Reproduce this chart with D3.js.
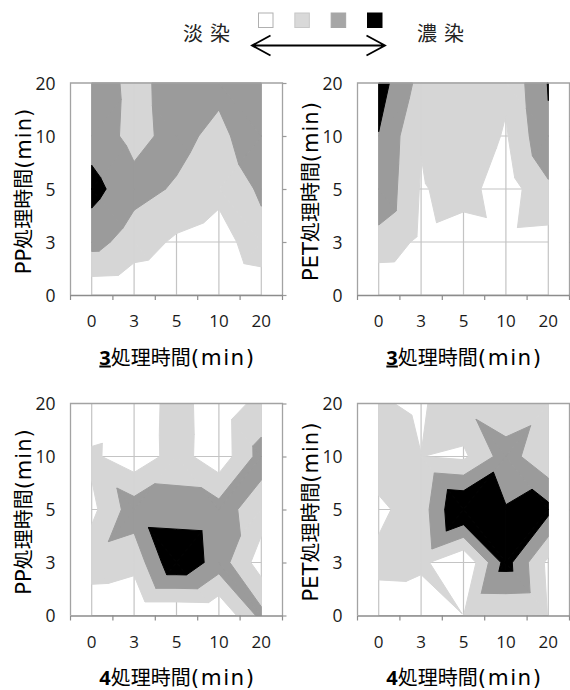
<!DOCTYPE html>
<html><head><meta charset="utf-8">
<script src="https://cdn.jsdelivr.net/npm/d3@7"></script>
<style>body{margin:0;background:#fff}svg{display:block}</style>
</head><body>
<svg id="chart" width="570" height="690"></svg>
<script>
// ---- data ----
const xCats = ["0","3","5","10","20"];          // x categories (min)
const yCats = ["0","3","5","10","20"];          // y categories (min), bottom -> top
const levels = [1, 2, 3];                        // band thresholds
const legendLabels = ["淡染", "濃染"];
const yPrefixes = ["PP", "PET", "PP", "PET"];
const xPrefixes = ["3", "3", "4", "4"];
const titleCore = "処理時間";
const titleUnit = "(min)";
// rows: y = 0,3,5,10,20 ; columns: x = 0,3,5,10,20
const pp3 = [
  [0.26, 0.19, 0.00, 0.00, 0.22],
  [2.38, 1.52, 0.83, 0.50, 1.69],
  [3.35, 2.32, 1.89, 1.30, 2.15],
  [2.57, 1.70, 2.33, 1.70, 2.80],
  [2.50, 1.75, 2.35, 2.31, 2.50]
];
const pet3 = [
  [0.06, 0.00, 0.30, 0.30, 0.30],
  [1.60, 0.80, 0.54, 0.70, 0.62],
  [2.85, 0.92, 1.35, 0.50, 1.80],
  [2.96, 1.05, 1.70, 0.90, 2.90],
  [3.46, 1.64, 1.60, 1.16, 3.05]
];
const pp4 = [
  [0.07, 0.00, 0.00, 0.07, 2.30],
  [1.65, 1.33, 3.90, 2.52, 0.50],
  [0.74, 2.54, 2.47, 2.40, 1.50],
  [1.21, 0.34, 1.43, 0.36, 2.40],
  [0.10, 0.37, 1.40, 0.40, 1.31]
];
const pet4 = [
  [0.55, 0.16, 0.99, 1.02, 0.95],
  [1.22, 1.25, 0.00, 3.40, 0.75],
  [0.80, 1.49, 4.20, 3.05, 3.31],
  [1.54, 1.01, 0.80, 2.50, 1.11],
  [1.09, 0.85, 1.79, 1.15, 1.64]
];
const grids = [pp3, pet3, pp4, pet4];

// ---- styles / layout ----
const bandFill = ["#d6d6d6", "#9b9b9b", "#000000"];
const legendFill = ["#ffffff", "#d9d9d9", "#a6a6a6", "#000000"];
const latin = "'Open Sans', sans-serif";
const cjk = "'Noto Sans CJK JP', sans-serif";
const W = 212, H = 212;
const origins = [[70.5, 83], [357.5, 83], [70.5, 403.5], [357.5, 403.5]];

const svg = d3.select("#chart");

// ---- legend ----
const lg = svg.append("g");
const lx = d3.scalePoint().domain(d3.range(legendFill.length)).range([258.5, 367.5]);
lg.selectAll("rect").data(legendFill).join("rect")
  .attr("x", (d, i) => lx(i)).attr("y", 13).attr("width", 14.5).attr("height", 14.5)
  .attr("fill", d => d).attr("stroke", (d, i) => i === 0 ? "#b0b0b0" : (i === 1 ? "#c8c8c8" : d))
  .attr("stroke-width", 1);
lg.append("text").attr("x", 183).attr("y", 41).attr("font-family", cjk).attr("font-size", 20)
  .attr("letter-spacing", 7).attr("fill", "#222").text(legendLabels[0]);
lg.append("text").attr("x", 417).attr("y", 41).attr("font-family", cjk).attr("font-size", 20)
  .attr("letter-spacing", 7).attr("fill", "#222").text(legendLabels[1]);
const ap = d3.path();
ap.moveTo(252, 45.5); ap.lineTo(385, 45.5);
ap.moveTo(270.5, 35.5); ap.lineTo(252, 45.5); ap.lineTo(270.5, 55.5);
ap.moveTo(366.5, 35.5); ap.lineTo(385, 45.5); ap.lineTo(366.5, 55.5);
lg.append("path").attr("d", ap.toString()).attr("fill", "none").attr("stroke", "#000")
  .attr("stroke-width", 1.8).attr("stroke-linejoin", "miter");

// ---- contour helpers ----
function clipPoly(poly, f) {
  const out = [];
  for (let k = 0; k < poly.length; k++) {
    const a = poly[k], b = poly[(k + 1) % poly.length];
    const fa = f(a), fb = f(b);
    if (fa >= 0) out.push(a);
    if ((fa >= 0) !== (fb >= 0)) {
      const t = fa / (fa - fb);
      out.push({x: a.x + (b.x - a.x) * t, y: a.y + (b.y - a.y) * t, z: a.z + (b.z - a.z) * t});
    }
  }
  return out;
}
function triangles(grid) {
  const tris = [];
  for (let j = 0; j < grid.length - 1; j++) {
    for (let i = 0; i < grid[0].length - 1; i++) {
      const A = {x: i, y: j, z: grid[j][i]}, B = {x: i + 1, y: j, z: grid[j][i + 1]};
      const C = {x: i, y: j + 1, z: grid[j + 1][i]}, D = {x: i + 1, y: j + 1, z: grid[j + 1][i + 1]};
      if (A.z + D.z > B.z + C.z) { tris.push([A, B, D], [A, D, C]); }
      else { tris.push([A, B, C], [B, D, C]); }
    }
  }
  return tris;
}

// ---- panels ----
grids.forEach((grid, p) => {
  const [ox, oy] = origins[p];
  const g = svg.append("g").attr("transform", `translate(${ox},${oy})`);
  const xb = d3.scaleBand().domain(xCats).range([0, W]);
  const yp = d3.scalePoint().domain(yCats).range([H, 0]);
  const xi = d3.scaleLinear().domain([0, xCats.length - 1])
    .range([xb(xCats[0]) + xb.bandwidth() / 2, xb(xCats[xCats.length - 1]) + xb.bandwidth() / 2]);
  const yi = d3.scaleLinear().domain([0, yCats.length - 1]).range([H, 0]);

  // gridlines (visible only in the lightest band)
  const gl = g.append("g").attr("stroke", "#c4c4c4").attr("stroke-width", 1.2);
  xCats.forEach((c, i) => gl.append("line").attr("x1", xi(i)).attr("x2", xi(i)).attr("y1", yi(0)).attr("y2", yi(yCats.length - 1)));
  yCats.forEach((c, j) => gl.append("line").attr("x1", xi(0)).attr("x2", xi(xCats.length - 1)).attr("y1", yi(j)).attr("y2", yi(j)));

  // contour bands
  const tris = triangles(grid);
  const line = d3.line().x(d => xi(d.x)).y(d => yi(d.y));
  levels.forEach((L, li) => {
    const bg = g.append("g").attr("fill", bandFill[li]).attr("stroke", bandFill[li])
      .attr("stroke-width", 1).attr("stroke-linejoin", "round");
    tris.forEach(t => {
      const poly = clipPoly(t, q => q.z - L);
      if (poly.length >= 3) bg.append("path").attr("d", line(poly) + "Z");
    });
  });

  // frame
  const fr = d3.path();
  fr.moveTo(0, H); fr.lineTo(0, 0); fr.lineTo(W, 0); fr.lineTo(W, H);
  g.append("path").attr("d", fr.toString()).attr("fill", "none").attr("stroke", "#a3a3a3").attr("stroke-width", 1.3);

  // bottom axis: boundary ticks, labels at category centres
  const ax = g.append("g").attr("transform", `translate(0,${H})`)
    .call(d3.axisBottom(xb).tickSize(0).tickPadding(20));
  ax.select(".domain").attr("stroke", "#8c8c8c").attr("stroke-width", 1.3);
  ax.selectAll("text").attr("font-family", latin).attr("font-size", 17).attr("fill", "#1a1a1a");
  const bticks = xCats.map(c => xb(c)).concat([W]);
  ax.selectAll("line.bt").data(bticks).join("line").attr("class", "bt")
    .attr("x1", d => d).attr("x2", d => d).attr("y1", 0).attr("y2", 5)
    .attr("stroke", "#8c8c8c").attr("stroke-width", 1.2);

  // left labels
  const ay = g.append("g").call(d3.axisLeft(yp).tickSize(0).tickPadding(15));
  ay.select(".domain").remove();
  ay.selectAll("text").attr("font-family", latin).attr("font-size", 17.5).attr("fill", "#1a1a1a").attr("dy", "0.36em");
  // right ticks
  const ar = g.append("g").attr("transform", `translate(${W},0)`).call(d3.axisRight(yp).tickSize(4).tickFormat(""));
  ar.select(".domain").remove();
  ar.selectAll("line").attr("stroke", "#999").attr("stroke-width", 1.2);

  // x title
  const xt = g.append("text").attr("x", (xi(0) + xi(xCats.length - 1)) / 2 + 1).attr("y", H + 69.5)
    .attr("text-anchor", "middle").attr("font-size", 20).attr("fill", "#000");
  xt.append("tspan").attr("font-family", latin).attr("font-weight", 700)
    .attr("text-decoration", p < 2 ? "underline" : null).text(xPrefixes[p]);
  xt.append("tspan").attr("font-family", cjk).text(titleCore);
  xt.append("tspan").attr("font-family", "'DejaVu Sans'").attr("font-size", 21.5).attr("letter-spacing", 1.5).text(titleUnit);

  // y title
  const yt = g.append("text").attr("transform", `translate(-39.5,${H / 2 + 2}) rotate(-90)`)
    .attr("text-anchor", "middle").attr("font-size", 20).attr("fill", "#000");
  yt.append("tspan").attr("font-family", "'DejaVu Sans'").attr("font-size", 21).text(yPrefixes[p]);
  yt.append("tspan").attr("font-family", cjk).text(titleCore);
  yt.append("tspan").attr("font-family", "'DejaVu Sans'").attr("font-size", 21).attr("letter-spacing", 1).text(titleUnit);
});
</script>
</body></html>
